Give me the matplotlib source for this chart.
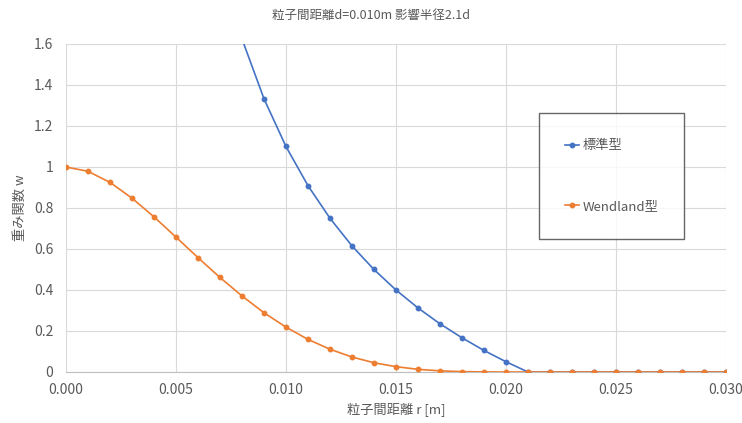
import matplotlib
matplotlib.use("Agg")
from matplotlib import pyplot as plt

plt.rcParams['font.family'] = ['Noto Sans CJK JP', 'DejaVu Sans']

# particle distance r [m]
r_values = [0.000, 0.001, 0.002, 0.003, 0.004, 0.005, 0.006, 0.007, 0.008, 0.009,
            0.010, 0.011, 0.012, 0.013, 0.014, 0.015, 0.016, 0.017, 0.018, 0.019,
            0.020, 0.021, 0.022, 0.023, 0.024, 0.025, 0.026, 0.027, 0.028, 0.029,
            0.030]

# standard type (starts at r=0.001, off the top of the chart until ~0.008)
r_standard = r_values[1:]
w_standard = [20.0, 9.5, 6.0, 4.25, 3.2, 2.5, 2.0, 1.625, 1.333,
              1.1, 0.909, 0.75, 0.615, 0.5, 0.4, 0.3125, 0.235, 0.167, 0.105,
              0.05, 0.0, 0.0, 0.0, 0.0, 0.0, 0.0, 0.0, 0.0, 0.0,
              0.0]

# Wendland type
w_wendland = [1.0, 0.979, 0.925, 0.848, 0.757, 0.658, 0.558, 0.461, 0.371, 0.289,
              0.219, 0.159, 0.111, 0.073, 0.045, 0.026, 0.013, 0.0056, 0.0018, 0.0004,
              0.0, 0.0, 0.0, 0.0, 0.0, 0.0, 0.0, 0.0, 0.0, 0.0,
              0.0]

x_ticks = [0.000, 0.005, 0.010, 0.015, 0.020, 0.025, 0.030]
y_ticks = [0, 0.2, 0.4, 0.6, 0.8, 1.0, 1.2, 1.4, 1.6]
y_tick_labels = ['0', '0.2', '0.4', '0.6', '0.8', '1', '1.2', '1.4', '1.6']

blue = '#4472C4'
orange = '#ED7D31'
text_color = '#595959'

fig = plt.figure(figsize=(7.42, 4.23), dpi=100)
ax = fig.add_axes([0.0889, 0.1206, 0.8895, 0.7754])

ax.plot(r_standard, w_standard, color=blue, lw=1.2, marker='o', markersize=3.2,
        label='標準型', zorder=3)
ax.plot(r_values, w_wendland, color=orange, lw=1.2, marker='o', markersize=3.2,
        label='Wendland型', zorder=4)

ax.set_xlim(0, 0.030)
ax.set_ylim(0, 1.6)
ax.set_xticks(x_ticks)
ax.set_xticklabels([f'{v:.3f}' for v in x_ticks])
ax.set_yticks(y_ticks)
ax.set_yticklabels(y_tick_labels)
ax.tick_params(length=0, labelsize=10, labelcolor=text_color)
ax.tick_params(axis='x', pad=8)
ax.tick_params(axis='y', pad=9)

ax.grid(True, color='#D9D9D9', lw=0.8)
ax.set_axisbelow(True)
for side in ['top', 'right', 'left']:
    ax.spines[side].set_visible(False)
ax.spines['bottom'].set_color('#BFBFBF')

ax.set_xlabel('粒子間距離 r [m]', fontsize=9.5, color=text_color, labelpad=4)
ax.set_ylabel('重み関数 w', fontsize=9.5, color=text_color, labelpad=5)
fig.suptitle('粒子間距離d=0.010m 影響半径2.1d', fontsize=9, color=text_color, y=0.978)

leg = fig.legend(loc='upper left', bbox_to_anchor=(539 / 742, 1 - 117 / 423, 145 / 742, 0.01),
                 mode='expand', fontsize=9.5, frameon=True, fancybox=False,
                 borderpad=2.0, labelspacing=3.6, handlelength=1.0, handletextpad=0.3,
                 borderaxespad=0)
leg.get_frame().set_edgecolor('#404040')
leg.get_frame().set_linewidth(1.0)
for t in leg.get_texts():
    t.set_color(text_color)

fig.savefig('out.png', dpi=100)
